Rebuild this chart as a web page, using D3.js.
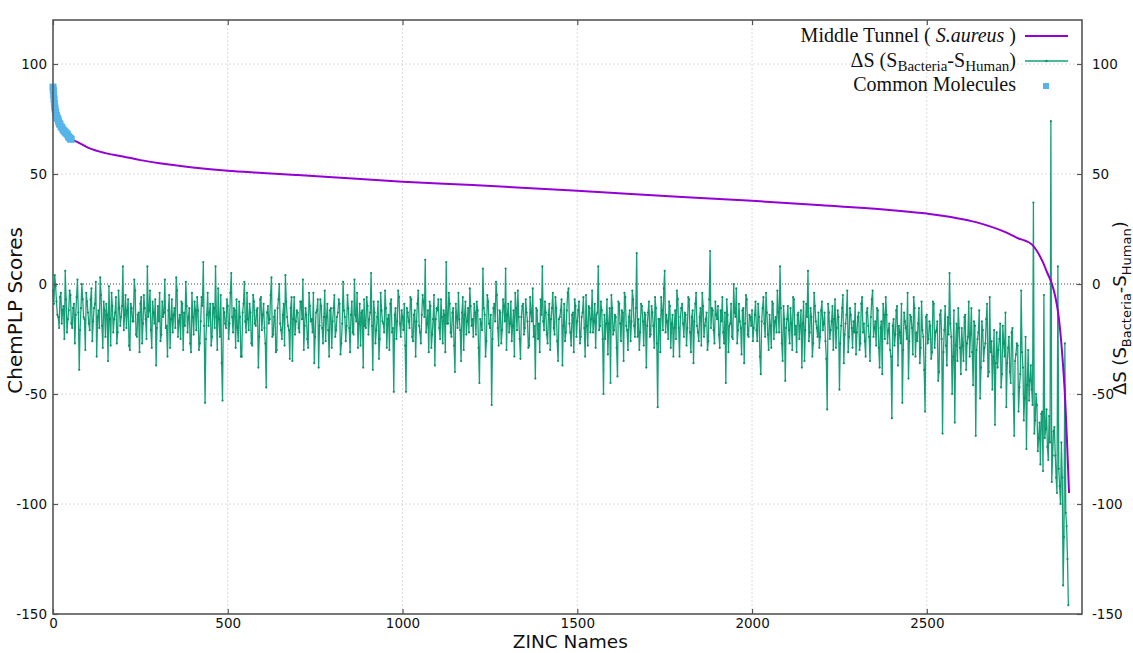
<!DOCTYPE html>
<html>
<head>
<meta charset="utf-8">
<script src="https://d3js.org/d3.v7.min.js"></script>
<style>
  body { margin: 0; background: #fff; }
  svg { display: block; }
</style>
</head>
<body>
<div id="chart"></div>
<script>
/* Data */
var xTicks = [0, 500, 1000, 1500, 2000, 2500];
var yTicks = [100, 50, 0, -50, -100, -150];

// Middle Tunnel (S.aureus), sorted ChemPLP scores: molecule index / score
var tunnelIdx = [0, 2, 4, 8, 14, 20, 30, 40, 52, 70, 100, 150, 200, 250, 300, 400, 500, 600, 700, 800,
  1000, 1200, 1500, 1800, 2000, 2200, 2400, 2500, 2643, 2718, 2758, 2801, 2815, 2830, 2845, 2858,
  2868, 2876, 2886, 2896, 2902, 2907];
var tunnelVal = [89.5, 85, 81, 77, 75, 72.5, 70, 68, 66, 64.5, 62, 59.5, 58, 56.3, 55, 53, 51.5, 50.5, 49.5, 48.5,
  46.5, 45, 42.4, 39.5, 37.8, 35.8, 33.5, 32, 28, 24, 21, 17.9, 15, 10.6, 5, 0,
  -6, -13.4, -29, -53, -75, -95];

// Common molecules (first ranked ones)
var commonIdx = [0, 1, 2, 3, 4, 5, 6, 8, 10, 12, 14, 16, 18, 20, 23, 26, 29, 32, 35, 38, 41, 44, 47, 50, 52];
var commonVal = [89.5, 88, 86, 84, 82, 80.5, 79.5, 78, 76.5, 75.5, 75, 74, 73, 72.5, 71.5, 71, 70, 69.5, 69, 68.5, 68, 67, 66.5, 66, 65.8];

// Delta S (S_Bacteria - S_Human): values at molecules 0, 5, 10, ...
var deltaStep = 5;
var deltaS = [
  -3, 4, -8, -15, -6, -18, -10, 6, -22, -12, -5, -20, -9, -14, 2, -39, -11, -7, -16, -4,
  -13, -21, -2, -17, -9, -33, -12, 3, -19, -8, -24, -14, -1, -28, -10, -16, -6, -22, -11, -15,
  8, -14, -20, -7, -30, -11, -17, -3, -24, -13, -9, -27, -5, -16, 8, -12, -21, -8, -18, -37,
  -10, -4, -23, -15, 2, -19, -12, -29, -7, -14, -20, -3, -17, -25, -9, -13, 1, -22, -11, -31,
  -15, -8, -21, -12, -27, -6, 10, -54, -14, -19, -9, -24, -11, 8, -30, -16, -5, -53, -13, -20,
  -10, -18, 5, -22, -12, -7, -26, -15, -33, -9, -17, -4, -21, -13, -28, -8, -19, -11, -24, -6,
  -14, -20, -47, -10, -16, 3, -23, -12, -30, -7, -18, -25, -9, 4, -15, -21, -11, -35, -6, -17,
  -13, -22, -8, 2, -19, -14, -29, -10, -16, -4, -24, -12, -38, -7, -20, -15, -26, -9, -33, -11,
  -17, -5, -21, -13, -9, -27, 1, -15, -19, -11, -31, -8, -23, -14, -4, -18, -28, -12, -7, -20,
  -10, -16, 5, -39, -13, -21, -8, -25, -12, -18, -3, -29, -14, -9, -22, -49, -11, -17, -6, -24,
  -15, -9, -49, -13, -20, -7, -26, -12, -17, -3, -22, -14, -8, 11, -18, -31, -10, -23, -5, -16,
  -12, -20, -7, -27, -14, 10, -18, -9, -24, -11, -40, -15, -4, -21, -13, -30, -8, -17, -22, -10,
  -16, -9, -23, -12, -45, -18, 7, -14, -26, -8, -20, -55, -11, -17, -5, -28, -13, -21, -10, 7,
  -14, -22, -8, -19, -33, -11, -3, -25, -15, -9, -20, -13, -29, -6, -17, -24, -43, -12, -18, -7,
  8, -21, -13, -27, -9, -16, -4, -23, -11, -35, -15, -7, -19, -26, -12, -2, -22, -14, -31, -10,
  -17, -8, -24, -13, -20, -5, -28, -11, -16, -22, -9, -14, 8, -19, -12, -50, -25, -7, -18, -45,
  -11, -21, -15, -42, -9, -26, -13, -4, -19, -30, -12, -17, -7, -24, 14, -16, -22, -10, -28, -14,
  -19, -8, -23, -13, -29, -11, -56, -16, -6, -21, 6, -14, -25, -10, -18, -33, -12, -3, -20, -15,
  -9, -24, -14, -20, -7, -31, -12, -17, -4, -22, -15, -28, -10, -19, -13, -26, 15, -11, -21, -8,
  -16, -23, -12, -6, -27, -45, -14, -19, -9, -25, -13, -2, -21, -17, -32, -11, -18, -7, -24, -15,
  -12, -20, -8, -26, -15, -41, -11, -18, -4, -23, -14, -29, -9, -17, -22, -13, 8, -27, -10, -44,
  -16, -21, -11, -30, -7, -19, -14, -25, -12, -18, -35, -9, 6, -22, -15, -27, -10, -20, -13, -24,
  -8, -18, -26, -57, -13, -21, -10, -16, -29, -12, -48, -19, -5, -23, -14, -31, -11, -20, -17, -9,
  -22, -13, -27, -6, -18, -33, -11, -24, -15, -3, -20, -28, -12, -38, -17, -9, -25, -14, -21, -30,
  -61, -16, -23, -10, -19, -27, -54, -13, -20, -4, -26, -15, -32, -11, -22, -18, -36, -8, -24, -58,
  -14, -25, -19, -31, -9, -22, -17, -40, -12, -68, -21, -28, -15, 5, -24, -33, -63, -18, -11, -29,
  -20, -35, -14, -27, -8, -23, -31, -17, -69, -25, -12, -38, -21, -29, -16, -42, -6, -26, -33, -64,
  -22, -30, -18, -41, -27, -13, -36, -24, -45, -20, -69, -32, -28, -47, -3, -38, -52, -75, -30, -44,
  -48, 37, -62, -55, -70, -82, -58, -5, -66, -74, -60, 74, -78, -65, -88, 8, -92, -72, -137, -27,
  -110, -146
];
// Delta S values at molecules 2.5, 7.5, 12.5, ... (between the ones above)
var deltaSMid = [
  -9, -1, -14, -20, -4, -12, -25, -7, -16, -3, -18, -11, -27, -6, -13, -21, 0, -15, -30, -8,
  -18, -7, -26, -11, 1, -15, -20, -5, -29, -12, -9, -35, -16, -4, -22, -13, -27, -3, -19, -10,
  -21, -5, -12, -28, -9, -17, 2, -23, -14, -31, -6, -18, -11, -25, -15, -3, -29, -13, -7, -20,
  -17, -26, -8, -13, -20, -33, -5, -16, -22, -11, 3, -24, -14, -8, -30, -19, -10, -15, -27, -4,
  -23, -12, -6, -30, -17, -10, -19, -25, -4, -13, -28, -9, -20, -15, -2, -24, -36, -11, -18, -7,
  -25, -4, -15, -11, -29, -20, -8, -33, -13, 1, -22, -16, -9, -27, -5, -18, -12, -38, -7, -21,
  -9, -27, -13, -18, -5, -24, -15, -31, -11, 0, -21, -14, -28, -8, -19, -34, -6, -16, -23, -12,
  -20, -8, -16, -30, -11, -25, -4, -17, -22, -36, -13, -7, -19, -10, -27, -3, -15, -21, -12, -29,
  -11, -24, -15, -7, -32, -18, -12, -26, -5, -20, -14, -22, 2, -17, -29, -9, -13, -38, -19, -6,
  -23, -13, -19, -8, -27, -15, -34, -4, -17, -22, -11, -16, -30, -7, -20, -14, -25, -3, -18, -12,
  -21, -28, -11, -17, -6, -24, -14, -33, -9, -19, -27, -5, -15, -22, -12, -8, -29, -16, -37, -11,
  -7, -25, -15, -12, -31, -18, -4, -22, -13, -28, -9, -20, -16, -35, -6, -14, -23, -11, -2, -19,
  -24, -13, -8, -29, -16, -21, -11, -33, -5, -18, -14, -25, -9, 1, -20, -12, -27, -7, -17, -30,
  -9, -18, -26, -12, -4, -21, -15, -34, -10, -23, -7, -17, -28, -13, -2, -19, -11, -25, -31, -14,
  -17, -8, -23, -14, -30, -11, -20, -6, -26, -16, -12, -37, -9, -22, -4, -18, -28, -13, -7, -24,
  -12, -27, -15, -6, -33, -19, -10, -22, -3, -17, -29, -13, -21, -8, -25, -14, -18, -32, -11, -5,
  -23, -14, -29, -8, -18, -12, -35, -6, -21, -15, -26, -3, -19, -11, -24, -30, -9, -17, -13, -38,
  -13, -24, -10, -19, -6, -27, -16, -31, -12, -2, -22, -17, -8, -29, -14, -20, -25, -7, -33, -11,
  -18, -13, -28, -6, -22, -15, -36, -9, -19, -26, -11, -4, -24, -16, -30, -7, -20, -12, -27, -14,
  -10, -29, -17, -22, -13, -7, -31, -18, -24, 0, -15, -27, -9, -20, -12, -36, -5, -23, -14, -19,
  -26, -14, -21, -9, -33, -17, -6, -24, -13, -30, -19, -8, -25, -15, -3, -22, -11, -35, -16, -20,
  -10, -27, -18, -6, -23, -31, -13, -19, -38, -8, -21, -15, -26, -11, -33, -4, -17, -24, -29, -12,
  -21, -13, -34, -9, -25, -17, -30, -7, -20, -15, -27, -11, -36, -18, -3, -24, -14, -29, -22, -32,
  -15, -30, -9, -22, -26, -13, -19, -35, -7, -24, -17, -11, -29, -20, -41, -14, -6, -27, -18, -33,
  -19, -28, -12, -37, -22, -9, -30, -17, -25, -43, -14, -20, -6, -33, -26, -11, -29, -21, -39, -15,
  -27, -17, -34, -8, -29, -21, -44, -14, -25, -31, -10, -37, -23, -18, -50, -12, -28, -35, -20, -41,
  -28, -15, -39, -24, -33, -11, -46, -19, -30, -22, -52, -17, -35, -27, -9, -40, -31, -48, -21, -36,
  -38, -25, -47, -19, -33, -56, -29, -40, -22, -50, -35, -27, -58, -41, -31, -62, -24, -46, -53, -37,
  -55, -68, -50, -76, -63, -59, -85, -70, -57, -80, -72, -90, -67, -78, -95, -84, -100, -88, -115, -104,
  -125
];

var legendLabels = ["Middle Tunnel", "Common Molecules"];

/* Dimensions */
var dimensions = {
  width: 1133,
  height: 653,
  margin: { top: 20, right: 51, bottom: 39, left: 53 }
};
dimensions.boundedWidth = dimensions.width - dimensions.margin.left - dimensions.margin.right;
dimensions.boundedHeight = dimensions.height - dimensions.margin.top - dimensions.margin.bottom;

var svg = d3.select("#chart").append("svg")
  .attr("width", dimensions.width)
  .attr("height", dimensions.height);
var bounds = svg.append("g")
  .attr("transform", `translate(${dimensions.margin.left},${dimensions.margin.top})`);

/* Scales */
var xScale = d3.scaleLinear().domain([0, 2944]).range([0, dimensions.boundedWidth]);
var yScale = d3.scaleLinear().domain([-150, 120]).range([dimensions.boundedHeight, 0]);

/* Grid */
bounds.append("g").selectAll("line").data(xTicks.slice(1)).join("line")
  .attr("x1", d => xScale(d)).attr("x2", d => xScale(d))
  .attr("y1", 0).attr("y2", dimensions.boundedHeight)
  .attr("stroke", "#dcdcdc").attr("stroke-width", 1).attr("stroke-dasharray", "2,2");
bounds.append("g").selectAll("line").data(yTicks.filter(d => d !== 0 && d !== -150)).join("line")
  .attr("x1", 0).attr("x2", dimensions.boundedWidth)
  .attr("y1", d => yScale(d)).attr("y2", d => yScale(d))
  .attr("stroke", "#dcdcdc").attr("stroke-width", 1).attr("stroke-dasharray", "2,2");
// zero line
bounds.append("line")
  .attr("x1", 0).attr("x2", dimensions.boundedWidth)
  .attr("y1", yScale(0)).attr("y2", yScale(0))
  .attr("stroke", "#444").attr("stroke-width", 1).attr("stroke-dasharray", "1,2");

/* Data */
var deltaData = [];
deltaS.forEach(function (v, i) {
  deltaData.push({ x: i * deltaStep, y: v });
  if (i < deltaSMid.length) deltaData.push({ x: i * deltaStep + deltaStep / 2, y: deltaSMid[i] });
});
var tunnelData = tunnelIdx.map((x, i) => ({ x: x, y: tunnelVal[i] }));
var commonData = commonIdx.map((x, i) => ({ x: x, y: commonVal[i] }));

var lineGen = d3.line().x(d => xScale(d.x)).y(d => yScale(d.y));

bounds.append("path")
  .attr("d", lineGen(deltaData))
  .attr("fill", "none")
  .attr("stroke", "#15a078")
  .attr("stroke-width", 1.3);
bounds.append("g").selectAll("circle").data(deltaData).join("circle")
  .attr("cx", d => xScale(d.x)).attr("cy", d => yScale(d.y))
  .attr("r", 1.1).attr("fill", "#108d69");

bounds.append("path")
  .attr("d", d3.line().curve(d3.curveMonotoneX).x(d => xScale(d.x)).y(d => yScale(d.y))(tunnelData))
  .attr("fill", "none")
  .attr("stroke", "#9400d3")
  .attr("stroke-width", 2);

bounds.append("g").selectAll("rect").data(commonData).join("rect")
  .attr("x", d => xScale(d.x) - 3.5).attr("y", d => yScale(d.y) - 3.5)
  .attr("width", 7).attr("height", 7)
  .attr("fill", "#56b4e9");

/* Frame + ticks */
bounds.append("rect")
  .attr("width", dimensions.boundedWidth).attr("height", dimensions.boundedHeight)
  .attr("fill", "none").attr("stroke", "#555").attr("stroke-width", 1.6);

var tickFont = "DejaVu Sans, sans-serif";
var fmt = d => String(d);
var bottomAxis = bounds.append("g").attr("transform", `translate(0,${dimensions.boundedHeight})`)
  .call(d3.axisBottom(xScale).tickValues(xTicks).tickSize(-5).tickPadding(4).tickFormat(fmt));
var topAxis = bounds.append("g")
  .call(d3.axisTop(xScale).tickValues(xTicks).tickSize(-5).tickFormat(""));
var leftAxis = bounds.append("g")
  .call(d3.axisLeft(yScale).tickValues(yTicks).tickSize(-5).tickPadding(6).tickFormat(fmt));
var rightAxis = bounds.append("g").attr("transform", `translate(${dimensions.boundedWidth},0)`)
  .call(d3.axisRight(yScale).tickValues(yTicks).tickSize(-5).tickPadding(10).tickFormat(fmt));
[bottomAxis, topAxis, leftAxis, rightAxis].forEach(function (ax) {
  ax.select(".domain").remove();
  ax.selectAll(".tick line").attr("stroke", "#555").attr("stroke-width", 1.2);
  ax.selectAll("text").attr("fill", "#111").style("font-family", tickFont).style("font-size", "13.5px");
});

/* Axis titles */
svg.append("text")
  .attr("x", dimensions.margin.left + xScale(1480)).attr("y", 648)
  .attr("text-anchor", "middle")
  .style("font-family", tickFont).style("font-size", "18.5px").attr("fill", "#111")
  .text("ZINC Names");
svg.append("text")
  .attr("transform", `translate(22,${dimensions.margin.top + yScale(-12)}) rotate(-90)`)
  .attr("text-anchor", "middle")
  .style("font-family", tickFont).style("font-size", "20px").attr("fill", "#111")
  .text("ChemPLP Scores");
var rTitle = svg.append("text")
  .attr("transform", `translate(1126,${dimensions.margin.top + yScale(-11)}) rotate(-90)`)
  .attr("text-anchor", "middle")
  .style("font-family", tickFont).style("font-size", "18px").attr("fill", "#111");
rTitle.append("tspan").text("ΔS (S");
rTitle.append("tspan").attr("dy", 5).style("font-size", "13px").text("Bacteria");
rTitle.append("tspan").attr("dy", -5).text("-S");
rTitle.append("tspan").attr("dy", 5).style("font-size", "13px").text("Human");
rTitle.append("tspan").attr("dy", -5).text(")");

/* Legend */
var serif = "Liberation Serif, Times New Roman, serif";
var legend = svg.append("g");
var lx = 1016, sx1 = 1025, sx2 = 1068;
var t1 = legend.append("text").attr("x", lx).attr("y", 42).attr("text-anchor", "end")
  .style("font-family", serif).style("font-size", "20px").attr("fill", "#111");
t1.append("tspan").text(legendLabels[0] + " ( ");
t1.append("tspan").style("font-style", "italic").text("S.aureus");
t1.append("tspan").text(" )");
legend.append("line").attr("x1", sx1).attr("x2", sx2).attr("y1", 36).attr("y2", 36)
  .attr("stroke", "#9400d3").attr("stroke-width", 2);

var t2 = legend.append("text").attr("x", lx).attr("y", 67).attr("text-anchor", "end")
  .style("font-family", serif).style("font-size", "20px").attr("fill", "#111");
t2.append("tspan").text("ΔS (S");
t2.append("tspan").attr("dy", 4).style("font-size", "15px").text("Bacteria");
t2.append("tspan").attr("dy", -4).text("-S");
t2.append("tspan").attr("dy", 4).style("font-size", "15px").text("Human");
t2.append("tspan").attr("dy", -4).text(")");
legend.append("line").attr("x1", sx1).attr("x2", sx2).attr("y1", 61).attr("y2", 61)
  .attr("stroke", "#15a078").attr("stroke-width", 1.3);
legend.append("circle").attr("cx", (sx1 + sx2) / 2).attr("cy", 61).attr("r", 1.2).attr("fill", "#108d69");

legend.append("text").attr("x", lx).attr("y", 91).attr("text-anchor", "end")
  .style("font-family", serif).style("font-size", "20px").attr("fill", "#111")
  .text(legendLabels[1]);
legend.append("rect").attr("x", 1043).attr("y", 83).attr("width", 6).attr("height", 6)
  .attr("fill", "#56b4e9");
</script>
</body>
</html>
